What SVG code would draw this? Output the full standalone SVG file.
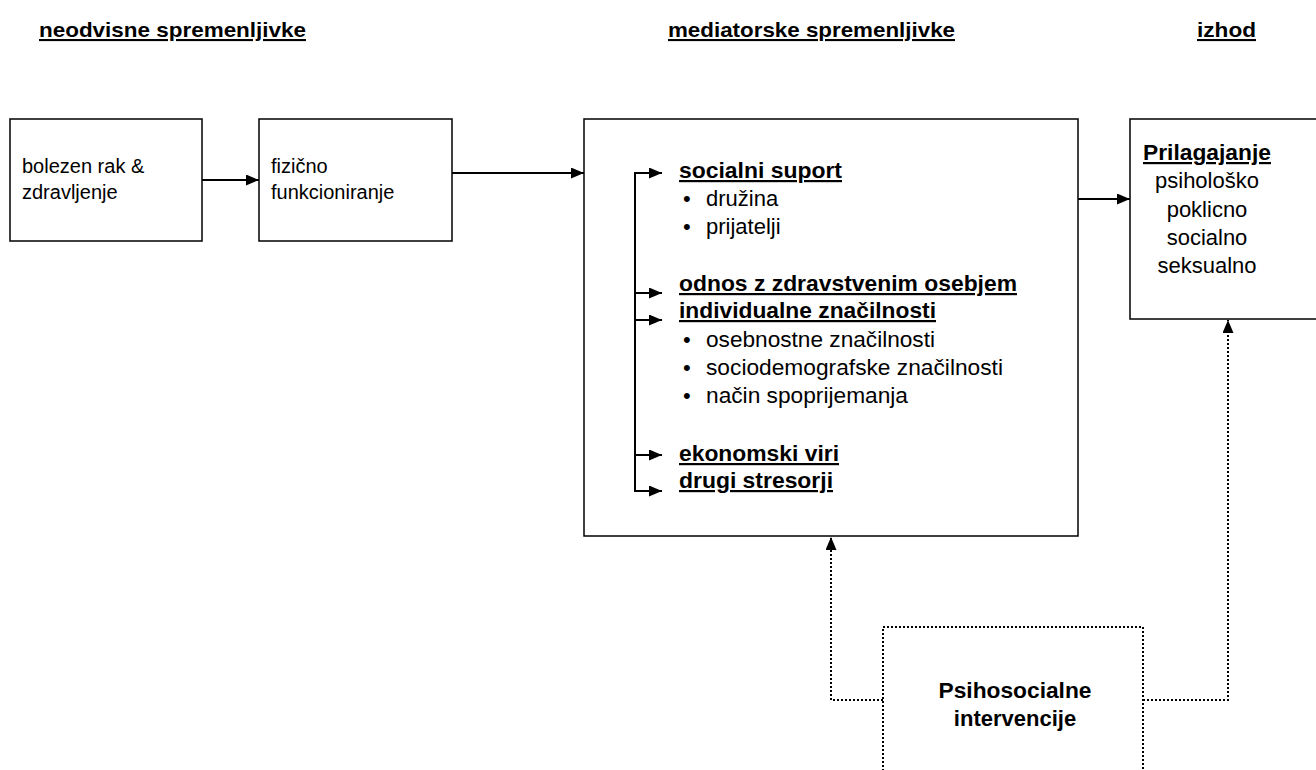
<svg xmlns="http://www.w3.org/2000/svg" width="1316" height="770" viewBox="0 0 1316 770">
<defs>
<marker id="ah" markerUnits="userSpaceOnUse" markerWidth="13" markerHeight="11" refX="13" refY="5.5" orient="auto">
<path d="M0,0 L13,5.5 L0,11 z" fill="#000"/>
</marker>
<style>
text{font-family:"Liberation Sans",Arial,sans-serif;fill:#000}
.hd{font-size:21px;font-weight:bold;text-decoration:underline}
.t20{font-size:20px}
.t22{font-size:22px}
.b22{font-size:22px;font-weight:bold;text-decoration:underline}
.bb{font-size:22px;font-weight:bold}
.box{fill:#fff;stroke:#000;stroke-width:1.5}
.dbox{fill:#fff;stroke:#000;stroke-width:2;stroke-dasharray:2 2}
.con{fill:none;stroke:#000;stroke-width:2}
.dcon{fill:none;stroke:#000;stroke-width:2;stroke-dasharray:2 2}
.mid{text-anchor:middle}
</style>
</defs>
<rect width="1316" height="770" fill="#fff"/>
<g id="headers">
<text class="hd" x="39" y="37" textLength="267" lengthAdjust="spacingAndGlyphs">neodvisne spremenljivke</text>
<text class="hd" x="668" y="37" textLength="287" lengthAdjust="spacingAndGlyphs">mediatorske spremenljivke</text>
<text class="hd" x="1197" y="37" textLength="59" lengthAdjust="spacingAndGlyphs">izhod</text>
</g>
<g id="node-bolezen">
<rect class="box" x="10" y="119" width="192" height="122"/>
<text class="t20" x="22" y="173">bolezen rak &amp;</text>
<text class="t20" x="22" y="199">zdravljenje</text>
</g>
<g id="node-fizicno">
<rect class="box" x="259" y="119" width="193" height="122"/>
<text class="t20" x="271" y="173">fizično</text>
<text class="t20" x="271" y="199">funkcioniranje</text>
</g>
<g id="node-mediatorji">
<rect class="box" x="584" y="119" width="494" height="417"/>
<text class="b22" x="679" y="178" textLength="163" lengthAdjust="spacingAndGlyphs">socialni suport</text>
<text class="t22" x="683" y="206">•</text><text class="t22" x="706" y="206">družina</text>
<text class="t22" x="683" y="234">•</text><text class="t22" x="706" y="234">prijatelji</text>
<text class="b22" x="679" y="291" textLength="338" lengthAdjust="spacingAndGlyphs">odnos z zdravstvenim osebjem</text>
<text class="b22" x="679" y="318" textLength="257" lengthAdjust="spacingAndGlyphs">individualne značilnosti</text>
<text class="t22" x="683" y="347">•</text><text class="t22" x="706" y="347" textLength="229" lengthAdjust="spacingAndGlyphs">osebnostne značilnosti</text>
<text class="t22" x="683" y="375">•</text><text class="t22" x="706" y="375" textLength="297" lengthAdjust="spacingAndGlyphs">sociodemografske značilnosti</text>
<text class="t22" x="683" y="403">•</text><text class="t22" x="706" y="403" textLength="202" lengthAdjust="spacingAndGlyphs">način spoprijemanja</text>
<text class="b22" x="679" y="461" textLength="160" lengthAdjust="spacingAndGlyphs">ekonomski viri</text>
<text class="b22" x="679" y="488" textLength="154" lengthAdjust="spacingAndGlyphs">drugi stresorji</text>
</g>
<g id="node-prilagajanje">
<rect class="box" x="1130" y="119" width="200" height="200"/>
<text class="b22 mid" x="1207" y="160" textLength="128" lengthAdjust="spacingAndGlyphs">Prilagajanje</text>
<text class="t22 mid" x="1207" y="188">psihološko</text>
<text class="t22 mid" x="1207" y="217">poklicno</text>
<text class="t22 mid" x="1207" y="245">socialno</text>
<text class="t22 mid" x="1207" y="273">seksualno</text>
</g>
<g id="node-intervencije">
<rect class="dbox" x="883" y="627" width="260" height="160"/>
<text class="bb mid" x="1015" y="698" textLength="153" lengthAdjust="spacingAndGlyphs">Psihosocialne</text>
<text class="bb mid" x="1015" y="726">intervencije</text>
</g>
<g id="connectors">
<line class="con" x1="202" y1="180" x2="259" y2="180" marker-end="url(#ah)"/>
<line class="con" x1="452" y1="173" x2="584" y2="173" marker-end="url(#ah)"/>
<line class="con" x1="1078" y1="199" x2="1130" y2="199" marker-end="url(#ah)"/>
<path class="con" d="M635,173 V491"/>
<line class="con" x1="634" y1="173" x2="662" y2="173" marker-end="url(#ah)"/>
<line class="con" x1="635" y1="293" x2="662" y2="293" marker-end="url(#ah)"/>
<line class="con" x1="635" y1="320" x2="662" y2="320" marker-end="url(#ah)"/>
<line class="con" x1="635" y1="455" x2="662" y2="455" marker-end="url(#ah)"/>
<line class="con" x1="634" y1="491" x2="662" y2="491" marker-end="url(#ah)"/>
<path class="dcon" d="M883,700 H831 V537" marker-end="url(#ah)"/>
<path class="dcon" d="M1143,700 H1228 V320" marker-end="url(#ah)"/>
</g>
</svg>
